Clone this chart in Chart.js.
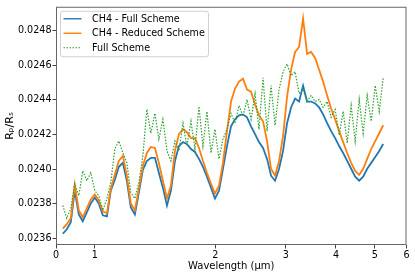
<!DOCTYPE html>
<html>
<head>
<meta charset="utf-8">
<script src="https://cdn.jsdelivr.net/npm/chart.js@4.4.0/dist/chart.umd.min.js"></script>
<style>
  html, body { margin: 0; padding: 0; background: #fff; }
</style>
</head>
<body>
<canvas id="myChart" width="415" height="277"></canvas>
<script>
// longueurs d'onde (µm)
const wavelength = [0.832, 0.851, 0.871, 0.891, 0.912, 0.933, 0.955, 0.977, 1.000, 1.023,
    1.047, 1.072, 1.096, 1.122, 1.148, 1.175, 1.202, 1.230, 1.259, 1.288,
    1.318, 1.349, 1.380, 1.413, 1.445, 1.479, 1.514, 1.549, 1.585, 1.622,
    1.660, 1.698, 1.738, 1.778, 1.820, 1.862, 1.905, 1.950, 1.995, 2.042,
    2.089, 2.138, 2.188, 2.239, 2.291, 2.344, 2.399, 2.455, 2.512, 2.570,
    2.630, 2.692, 2.754, 2.818, 2.884, 2.951, 3.020, 3.090, 3.162, 3.236,
    3.311, 3.388, 3.467, 3.548, 3.631, 3.715, 3.802, 3.890, 3.981, 4.074,
    4.169, 4.266, 4.365, 4.467, 4.571, 4.677, 4.786, 4.898, 5.012, 5.129,
    5.248];

const ch4Full = [0.023627, 0.023653, 0.023693, 0.023876, 0.023739, 0.023699, 0.023750, 0.023802, 0.023836, 0.023802,
    0.023733, 0.023727, 0.023876, 0.023939, 0.024013, 0.024036, 0.023933, 0.023779, 0.023739, 0.023865,
    0.023996, 0.024047, 0.024065, 0.024065, 0.023979, 0.023893, 0.023790, 0.023876, 0.024047, 0.024133,
    0.024156, 0.024145, 0.024116, 0.024099, 0.024059, 0.024013, 0.023956, 0.023893, 0.023830, 0.023876,
    0.024002, 0.024133, 0.024247, 0.024287, 0.024310, 0.024316, 0.024299, 0.024247, 0.024202, 0.024156,
    0.024122, 0.024059, 0.023962, 0.023933, 0.024002, 0.024105, 0.024265, 0.024356, 0.024407, 0.024390,
    0.024482, 0.024390, 0.024390, 0.024379, 0.024356, 0.024316, 0.024265, 0.024219, 0.024179, 0.024133,
    0.024093, 0.024047, 0.024002, 0.023956, 0.023933, 0.023956, 0.024002, 0.024036, 0.024070, 0.024105,
    0.024145];

const ch4Reduced = [0.023656, 0.023682, 0.023716, 0.023910, 0.023762, 0.023722, 0.023773, 0.023825, 0.023853, 0.023819,
    0.023756, 0.023745, 0.023887, 0.023967, 0.024047, 0.024076, 0.023962, 0.023802, 0.023762, 0.023887,
    0.024019, 0.024093, 0.024127, 0.024122, 0.024036, 0.023933, 0.023830, 0.023905, 0.024105, 0.024202,
    0.024230, 0.024213, 0.024179, 0.024179, 0.024122, 0.024047, 0.023979, 0.023916, 0.023859, 0.023905,
    0.024036, 0.024219, 0.024390, 0.024465, 0.024505, 0.024522, 0.024459, 0.024447, 0.024373, 0.024310,
    0.024276, 0.024162, 0.024002, 0.023962, 0.024047, 0.024190, 0.024419, 0.024573, 0.024676, 0.024705,
    0.024870, 0.024665, 0.024676, 0.024642, 0.024573, 0.024505, 0.024425, 0.024350, 0.024287, 0.024219,
    0.024156, 0.024093, 0.024036, 0.023990, 0.023967, 0.024002, 0.024059, 0.024116, 0.024162, 0.024207,
    0.024253];

const fullScheme = [0.023790, 0.023716, 0.023773, 0.023916, 0.023847, 0.023990, 0.023933, 0.023979, 0.023876, 0.023847,
    0.023762, 0.023830, 0.023922, 0.024116, 0.024162, 0.024093, 0.024036, 0.023865, 0.023830, 0.023922,
    0.024076, 0.024345, 0.024207, 0.024322, 0.024173, 0.024287, 0.024105, 0.024047, 0.024162, 0.024105,
    0.024265, 0.024133, 0.024276, 0.024116, 0.024362, 0.024133, 0.024333, 0.024093, 0.024230, 0.024059,
    0.024173, 0.024230, 0.024322, 0.024265, 0.024367, 0.024305, 0.024402, 0.024287, 0.024436, 0.024230,
    0.024527, 0.024219, 0.024482, 0.024253, 0.024459, 0.024562, 0.024607, 0.024539, 0.024562, 0.024436,
    0.024459, 0.024390, 0.024425, 0.024390, 0.024402, 0.024356, 0.024390, 0.024299, 0.024345, 0.024196,
    0.024333, 0.024150, 0.024367, 0.024162, 0.024402, 0.024207, 0.024425, 0.024276, 0.024482, 0.024333,
    0.024527];

const xTickValues = [0.8, 1, 2, 3, 4, 5, 6];
const xTickLabels = ['0', '1', '2', '3', '4', '5', '6'];
const yTickValues = [0.0236, 0.0238, 0.0240, 0.0242, 0.0244, 0.0246, 0.0248];

const toPoints = vals => vals.map((v, i) => ({ x: wavelength[i], y: v }));
const FONT = 'DejaVu Sans';

// cadre complet (4 côtés)
const framePlugin = {
    id: 'frame',
    afterDatasetsDraw(chart) {
        const { ctx, chartArea: a } = chart;
        ctx.save();
        ctx.strokeStyle = '#666';
        ctx.lineWidth = 1;
        ctx.strokeRect(a.left + 0.5, a.top + 0.5, a.right - a.left - 1, a.bottom - a.top - 1);
        ctx.restore();
    }
};

// légende dans la zone du graphique
const legendBox = {
    id: 'legendBox',
    afterDraw(chart) {
        const { ctx, chartArea: a } = chart;
        const x0 = a.left + 4.5, y0 = a.top + 4.5, w = 148, h = 45.5;
        ctx.save();
        ctx.beginPath();
        ctx.roundRect(x0, y0, w, h, 2.5);
        ctx.fillStyle = 'rgba(255,255,255,0.8)';
        ctx.fill();
        ctx.strokeStyle = '#d0d0d0';
        ctx.lineWidth = 1;
        ctx.stroke();
        ctx.font = '9.6px "' + FONT + '"';
        ctx.textBaseline = 'middle';
        chart.data.datasets.forEach((ds, i) => {
            const y = y0 + 7.5 + i * 14.5;
            ctx.beginPath();
            ctx.strokeStyle = ds.borderColor;
            ctx.lineWidth = ds.borderDash ? 1.1 : 1.4;
            ctx.setLineDash(ds.borderDash || []);
            ctx.moveTo(x0 + 3, y);
            ctx.lineTo(x0 + 21, y);
            ctx.stroke();
            ctx.setLineDash([]);
            ctx.fillStyle = '#000';
            ctx.fillText(ds.label, x0 + 31.5, y + 0.5);
        });
        ctx.restore();
    }
};

const ctx = document.getElementById('myChart').getContext('2d');
new Chart(ctx, {
    type: 'line',
    data: {
        datasets: [{
            label: 'CH4 - Full Scheme',
            data: toPoints(ch4Full),
            borderColor: '#1f77b4',
            borderWidth: 1.8,
            order: 3
        }, {
            label: 'CH4 - Reduced Scheme',
            data: toPoints(ch4Reduced),
            borderColor: '#ff7f0e',
            borderWidth: 1.8,
            order: 2
        }, {
            label: 'Full Scheme',
            data: toPoints(fullScheme),
            borderColor: '#2ca02c',
            borderWidth: 1.2,
            borderDash: [1.5, 1.5],
            order: 1
        }]
    },
    options: {
        responsive: false,
        animation: false,
        events: [],
        elements: { point: { radius: 0 }, line: { tension: 0 } },
        layout: { padding: { left: 0, right: 8.5, top: 4.5, bottom: 0 } },
        plugins: { legend: { display: false }, tooltip: { enabled: false } },
        scales: {
            x: {
                type: 'logarithmic',
                min: 0.8,
                max: 6,
                afterBuildTicks: s => { s.ticks = xTickValues.map(v => ({ value: v })); },
                afterFit: s => { s.height = 32; },
                ticks: {
                    autoSkip: false,
                    maxRotation: 0,
                    padding: 1,
                    color: '#000',
                    font: { family: FONT, size: 9.6 },
                    callback: (v, i) => xTickLabels[i]
                },
                grid: { drawOnChartArea: false, drawTicks: true, tickLength: 3.5, tickColor: '#444' },
                border: { display: false },
                title: {
                    display: true,
                    text: 'Wavelength (μm)',
                    color: '#000',
                    font: { family: FONT, size: 10 },
                    padding: { top: 0, bottom: 4.5 }
                }
            },
            y: {
                min: 0.023562,
                max: 0.024937,
                afterBuildTicks: s => { s.ticks = yTickValues.map(v => ({ value: v })); },
                afterFit: s => { s.width = 56; },
                ticks: {
                    padding: 1,
                    color: '#000',
                    font: { family: FONT, size: 9.6 },
                    callback: v => v.toFixed(4)
                },
                grid: { drawOnChartArea: false, drawTicks: true, tickLength: 3.5, tickColor: '#444' },
                border: { display: false },
                title: {
                    display: true,
                    text: 'Rₚ/Rₛ',
                    color: '#000',
                    font: { family: FONT, size: 11 },
                    padding: { top: 4, bottom: 0 }
                }
            }
        }
    },
    plugins: [framePlugin, legendBox]
});
</script>
</body>
</html>
